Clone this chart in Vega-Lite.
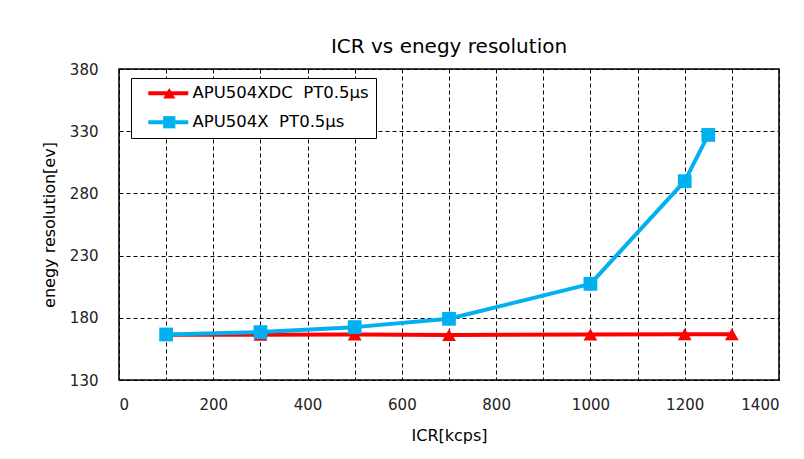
{
  "$schema": "https://vega.github.io/schema/vega-lite/v6.json",
  "width": 660,
  "height": 311,
  "autosize": "none",
  "padding": {"left": 119, "top": 69, "right": 25, "bottom": 79},
  "background": "white",
  "title": {"text": "ICR vs enegy resolution", "fontSize": 20, "font": "DejaVu Sans", "fontWeight": "normal", "color": "black", "offset": 5},
  "config": {
    "view": {"stroke": "black", "strokeWidth": 1.5},
    "font": "DejaVu Sans",
    "axis": {
      "domain": false, "ticks": false,
      "gridColor": "black", "gridDash": [4, 3], "gridWidth": 1, "gridOpacity": 1,
      "labelFontSize": 15, "labelColor": "#222", "labelFont": "DejaVu Sans",
      "titleFontSize": 16, "titleFontWeight": "normal", "titleColor": "black", "titleFont": "DejaVu Sans"
    }
  },
  "data": {"values": [
    {"series": "APU504XDC\u00a0 PT0.5µs", "icr": 100, "res": 166.3},
    {"series": "APU504XDC\u00a0 PT0.5µs", "icr": 300, "res": 166.3},
    {"series": "APU504XDC\u00a0 PT0.5µs", "icr": 500, "res": 166.6},
    {"series": "APU504XDC\u00a0 PT0.5µs", "icr": 700, "res": 166.2},
    {"series": "APU504XDC\u00a0 PT0.5µs", "icr": 1000, "res": 166.6},
    {"series": "APU504XDC\u00a0 PT0.5µs", "icr": 1200, "res": 166.8},
    {"series": "APU504XDC\u00a0 PT0.5µs", "icr": 1300, "res": 166.8},
    {"series": "APU504X\u00a0 PT0.5µs", "icr": 100, "res": 166.6},
    {"series": "APU504X\u00a0 PT0.5µs", "icr": 300, "res": 168.5},
    {"series": "APU504X\u00a0 PT0.5µs", "icr": 500, "res": 172.5},
    {"series": "APU504X\u00a0 PT0.5µs", "icr": 700, "res": 179.2},
    {"series": "APU504X\u00a0 PT0.5µs", "icr": 1000, "res": 207.3},
    {"series": "APU504X\u00a0 PT0.5µs", "icr": 1200, "res": 289.8},
    {"series": "APU504X\u00a0 PT0.5µs", "icr": 1250, "res": 327}
  ]},
  "encoding": {
    "x": {"field": "icr", "type": "quantitative",
      "scale": {"domain": [0, 1400], "nice": false, "zero": false},
      "axis": {"title": "ICR[kcps]", "values": [0,100,200,300,400,500,600,700,800,900,1000,1100,1200,1300,1400],
        "labelExpr": "datum.value % 200 === 0 ? datum.label : ''", "labelPadding": 17, "titlePadding": 15, "format": "d"}},
    "y": {"field": "res", "type": "quantitative",
      "scale": {"domain": [130, 380], "nice": false, "zero": false},
      "axis": {"title": "enegy resolution[ev]", "values": [130,180,230,280,330,380], "labelPadding": 21, "titlePadding": 12}}
  },
  "layer": [
    {"mark": {"type": "line", "strokeWidth": 4, "strokeJoin": "round"},
     "encoding": {"stroke": {"field": "series", "type": "nominal",
       "scale": {"domain": ["APU504XDC\u00a0 PT0.5µs", "APU504X\u00a0 PT0.5µs"], "range": ["#FF0000", "#00B0F0"]},
       "legend": {
         "title": null, "orient": "none", "legendX": 12, "legendY": 9, "zindex": 1,
         "fillColor": "white", "strokeColor": "black", "padding": 7,
         "labelFontSize": 16.5, "labelFont": "DejaVu Sans", "labelColor": "black", "labelLimit": 400,
         "symbolType": "M-4,0L4,0", "symbolSize": 100, "symbolStrokeWidth": 4, "symbolOffset": 22, "labelOffset": 16, "rowPadding": 12
       }}}},
    {"mark": {"type": "point", "filled": true, "size": 190, "opacity": 1},
     "encoding": {
       "color": {"field": "series", "type": "nominal",
         "scale": {"domain": ["APU504X\u00a0 PT0.5µs", "APU504XDC\u00a0 PT0.5µs"], "range": ["#00B0F0", "#FF0000"]},
         "legend": {
           "title": null, "orient": "none", "legendX": 12, "legendY": 9, "zindex": 2, "padding": 7,
           "values": ["APU504XDC\u00a0 PT0.5µs", "APU504X\u00a0 PT0.5µs"],
           "labelExpr": "''", "labelFontSize": 16.5, "labelFont": "DejaVu Sans",
           "symbolSize": 150, "symbolStrokeWidth": 0, "symbolOffset": 23, "rowPadding": 12, "symbolOpacity": 1
         }},
       "shape": {"field": "series", "type": "nominal",
         "scale": {"domain": ["APU504X\u00a0 PT0.5µs", "APU504XDC\u00a0 PT0.5µs"], "range": ["square", "triangle-up"]},
         "legend": null}}}
  ]
}
